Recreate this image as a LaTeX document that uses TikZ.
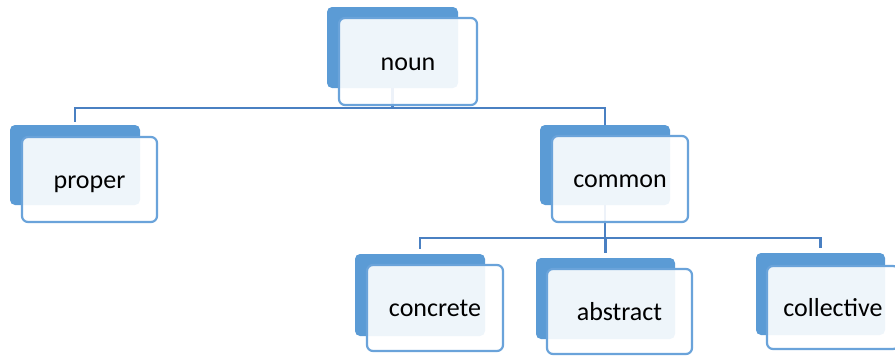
\documentclass[tikz,border=0pt]{standalone}
\usepackage{fontspec}
\setmainfont{Carlito}
\usetikzlibrary{backgrounds}
\definecolor{smartblue}{HTML}{5B9BD5}
\definecolor{edgeblue}{HTML}{6AA3DA}
\definecolor{linkblue}{HTML}{4A80C2}

\begin{document}
\begin{tikzpicture}[
  x=1pt, y=-1pt,
  back/.style={fill=smartblue, rounded corners=5pt, inner sep=0pt, outer sep=0pt},
  front/.style={draw=edgeblue, line width=2.2pt, fill=white, fill opacity=.9,
    text opacity=1, rounded corners=6pt, inner sep=0pt,
    text height=23pt, text depth=6pt,
    font=\fontsize{26}{30}\selectfont},
  link/.style={draw=linkblue, line width=2.6pt},
]
\useasboundingbox (0,0) rectangle (895,356);
\clip (0,0) rectangle (895,356);

% top
\node[back, minimum width=131pt, minimum height=81pt] (noun-b) at (392.5,47.5) {};
\node[front, minimum width=138pt, minimum height=87pt] (noun) at (408,61.5) {noun};

% middle row
\node[back, minimum width=130pt, minimum height=80pt] (proper-b) at (75,165) {};
\node[front, minimum width=135pt, minimum height=85pt] (proper) at (89.5,179.5) {proper};
\node[back, minimum width=130pt, minimum height=80pt] (common-b) at (605,165) {};
\node[front, minimum width=136pt, minimum height=86pt] (common) at (620,179) {common};

% bottom row
\node[back, minimum width=130pt, minimum height=82pt] (concrete-b) at (420,295) {};
\node[front, minimum width=136pt, minimum height=86pt] (concrete) at (435,308) {concrete};
\node[back, minimum width=139pt, minimum height=81pt] (abstract-b) at (605.5,298.5) {};
\node[front, minimum width=145pt, minimum height=85pt] (abstract) at (619.5,311.5) {abstract};
\node[back, minimum width=129pt, minimum height=82pt] (collective-b) at (820.5,294) {};
\node[front, minimum width=132pt, minimum height=83pt] (collective) at (833,307.5) {collective};

\begin{scope}[on background layer]
  \draw[link] (noun-b.south) -- ++(0,20) coordinate (noun-j);
  \draw[link, shorten >=3pt] (noun-j) -| (proper-b.north);
  \draw[link] (noun-j) -| (common-b.north);
  \draw[link] (common-b.south) -- ++(0,33) coordinate (common-j);
  \draw[link, shorten >=5pt] (common-j) -| (concrete-b.north);
  \draw[link, shorten >=5pt] (common-j) -| (abstract-b.north);
  \draw[link, shorten >=5pt] (common-j) -| (collective-b.north);
\end{scope}
\end{tikzpicture}
\end{document}
